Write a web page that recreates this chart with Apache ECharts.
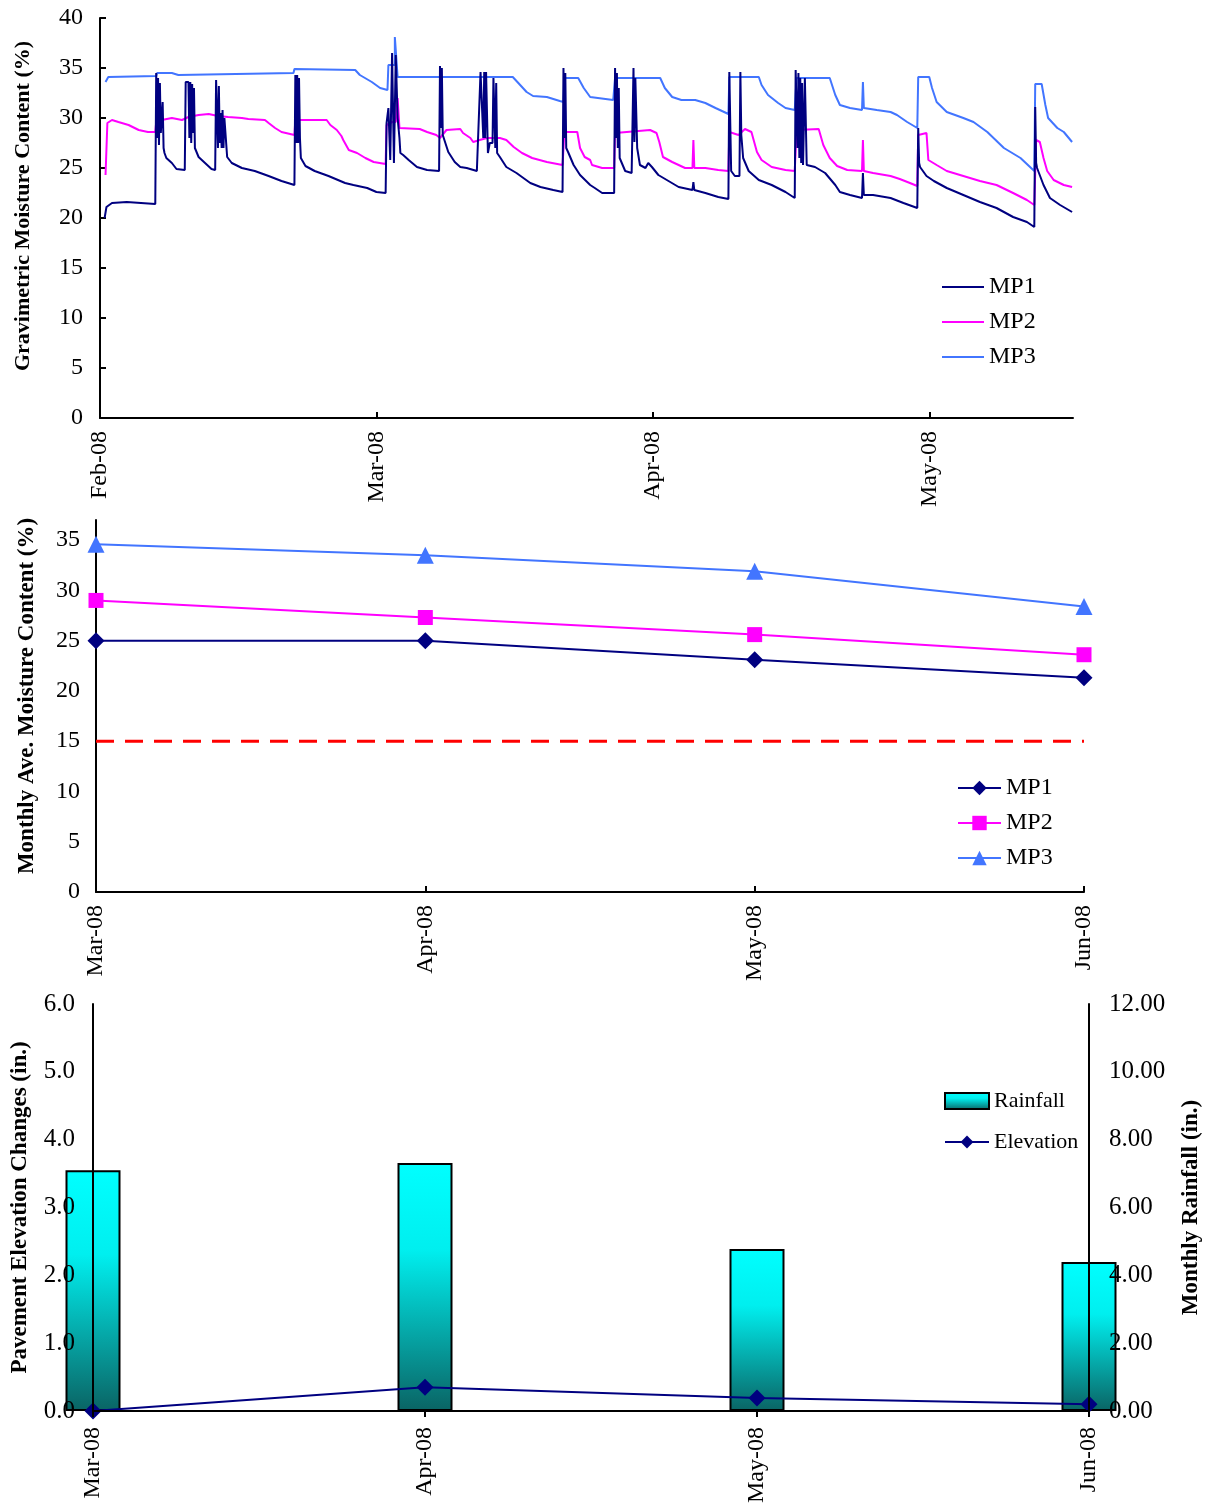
<!DOCTYPE html>
<html><head><meta charset="utf-8">
<script src="https://cdn.jsdelivr.net/npm/echarts@6/dist/echarts.min.js"></script>
<style>html,body{margin:0;padding:0;background:#fff}#c{width:1207px;height:1504px}</style>
</head><body><div id="c"></div>
<script>
// ---------- Panel 1: daily gravimetric moisture (x = days from 1 Feb, month ticks every 30) ----------
const monthTicks = [0, 30, 60, 90];
const monthTickLabels = ['Feb-08', 'Mar-08', 'Apr-08', 'May-08'];

const mp1Daily = [
[0.5,20.0],[0.7,21.1],[1.3,21.5],[2.9,21.6],[3.1,21.4],[6.0,21.4],
[6.1,34.5],[6.2,28.0],[6.3,34.0],[6.4,27.3],[6.5,33.5],[6.6,28.5],[6.8,31.6],[6.9,27.0],[7.0,26.5],[7.2,26.0],[7.8,25.5],[8.3,24.9],[9.2,24.8],
[9.3,33.6],[9.6,33.6],[9.7,28.0],[9.8,33.6],[9.9,27.5],[10.0,33.4],[10.1,28.5],[10.2,33.0],[10.3,27.0],[10.7,26.1],[11.4,25.5],[12.1,24.9],[12.5,24.8],
[12.6,33.8],[12.7,33.8],[12.8,27.0],[12.9,33.2],[13.0,27.5],[13.1,30.5],[13.2,27.0],[13.3,30.8],[13.4,27.0],[13.5,30.0],[13.8,26.1],[14.3,25.5],[15.4,25.0],[16.8,24.7],[18.3,24.2],[19.7,23.7],[21.1,23.3],
[21.2,34.3],[21.3,27.5],[21.4,34.3],[21.5,27.5],[21.6,34.0],[21.7,28.0],[21.8,26.0],[22.3,25.2],[23.3,24.7],[24.8,24.2],[26.6,23.5],[27.5,23.3],[29.0,23.0],[30.0,22.6],[31.0,22.5],
[31.1,29.5],[31.3,31.0],[31.5,25.8],[31.7,36.5],[31.9,25.5],[32.1,36.3],[32.3,30.0],[32.5,28.0],[32.6,26.5],[32.9,26.3],[33.5,25.8],[34.4,25.1],[35.5,24.8],[36.8,24.7],
[36.9,35.2],[37.0,29.0],[37.1,35.0],[37.2,28.3],[37.4,28.3],[37.8,26.6],[38.5,25.6],[39.1,25.1],[39.8,25.0],[40.9,24.7],
[41.3,34.6],[41.5,34.6],[41.6,28.0],[41.7,34.6],[41.8,28.0],[41.9,34.6],[42.1,26.5],[42.3,27.5],[42.6,27.5],[42.7,34.0],[42.8,34.0],[42.9,27.0],[43.0,33.5],[43.1,26.5],[43.4,26.1],[44.1,25.1],[45.2,24.5],[46.7,23.5],[47.8,23.1],[49.2,22.8],[50.2,22.6],
[50.3,35.0],[50.4,28.0],[50.5,34.5],[50.6,27.0],[50.8,26.6],[51.4,25.3],[52.1,24.3],[53.2,23.3],[53.7,23.0],[54.5,22.5],[55.8,22.5],
[55.9,35.0],[56.0,28.0],[56.1,34.5],[56.2,27.0],[56.3,33.0],[56.4,26.0],[57.0,24.7],[57.7,24.5],[57.9,35.0],[58.0,27.6],[58.1,34.0],[58.3,27.0],[58.6,25.3],[59.2,25.0],[59.5,25.5],[59.9,25.1],[60.6,24.3],[61.7,23.7],[62.8,23.1],[64.3,22.8],[64.4,23.6],[64.5,22.8],[65.7,22.5],[67.1,22.1],[68.2,21.9],
[68.3,34.6],[68.4,34.6],[68.5,24.7],[68.9,24.2],[69.4,24.2],[69.5,34.6],[69.6,28.3],[69.8,26.0],[70.4,24.7],[71.5,23.8],[72.9,23.3],[74.4,22.6],[75.4,22.0],
[75.5,34.8],[75.7,27.0],[75.8,34.5],[75.9,26.0],[76.0,34.0],[76.1,25.5],[76.2,33.5],[76.3,25.3],[76.5,34.0],[76.7,25.3],[76.9,25.3],[77.6,25.1],[78.7,24.5],[79.8,23.3],[80.3,22.6],[81.4,22.3],[82.7,22.0],[82.8,24.5],[82.9,22.3],[83.9,22.3],[85.8,22.0],[87.2,21.5],[88.7,21.0],
[88.8,29.0],[88.9,25.5],[89.0,25.1],[89.7,24.2],[90.5,23.7],[91.9,23.0],[93.7,22.3],[95.5,21.6],[97.3,21.0],[99.1,20.1],[100.6,19.6],[101.4,19.1],
[101.5,31.1],[101.6,25.5],[101.7,25.0],[102.4,23.3],[103.1,22.0],[104.2,21.3],[105.5,20.6]
];

const mp2Daily = [
[0.6,24.3],[0.8,29.5],[1.3,29.8],[2.0,29.6],[3.1,29.3],[4.2,28.8],[5.2,28.6],[6.0,28.6],
[6.1,29.6],[6.7,29.8],[7.8,30.0],[8.9,29.8],[9.6,30.1],[10.7,30.3],[11.8,30.4],[12.8,30.2],[13.9,30.1],[15.4,30.0],[16.1,29.9],[17.9,29.8],[18.3,29.5],[19.0,29.0],[19.7,28.6],[21.1,28.3],
[21.2,29.8],[24.6,29.8],[25.0,29.3],[25.7,28.8],[26.2,28.2],[26.4,27.8],[27.0,26.8],[27.9,26.5],[28.8,26.0],[29.7,25.6],[31.0,25.4],
[31.1,29.3],[31.7,29.6],[32.1,29.6],[32.3,32.0],[32.5,29.0],[34.7,28.9],[35.5,28.6],[36.5,28.3],[36.9,28.0],[37.6,28.8],[39.1,28.9],[39.4,28.5],[40.2,28.0],[40.5,27.6],[41.2,27.8],[42.0,28.0],[43.4,28.0],[44.1,27.8],[44.9,27.1],[45.8,26.5],[46.9,26.0],[48.5,25.6],[50.2,25.3],
[50.4,28.6],[51.8,28.6],[52.1,27.0],[52.6,26.1],[53.2,25.8],[53.4,25.3],[54.5,25.0],[55.8,25.0],
[55.9,28.5],[59.7,28.8],[60.4,28.5],[60.7,27.6],[61.1,26.1],[62.1,25.6],[63.5,25.0],[64.3,25.0],[64.4,27.8],[64.5,25.0],[65.7,25.0],[67.1,24.8],[68.2,24.7],
[68.3,28.6],[69.3,28.3],[70.0,28.9],[70.7,28.6],[71.3,26.6],[71.8,25.8],[72.9,25.1],[74.4,24.8],[75.4,24.7],
[75.6,28.8],[78.0,28.9],[78.5,27.3],[79.2,26.0],[80.0,25.2],[81.1,24.8],[82.7,24.7],[82.8,27.8],[82.9,24.7],[83.9,24.5],[85.8,24.2],[86.8,23.9],[87.9,23.5],[88.7,23.2],
[88.8,28.3],[89.7,28.5],[89.9,25.8],[90.8,25.3],[91.9,24.7],[93.7,24.2],[95.5,23.7],[97.3,23.3],[99.1,22.5],[100.6,21.8],[101.4,21.3],
[101.6,27.8],[102.0,27.6],[102.4,26.0],[102.8,24.7],[103.5,23.8],[104.6,23.3],[105.5,23.1]
];

const mp3Daily = [
[0.6,33.6],[0.9,34.1],[6.1,34.2],[6.2,34.5],[7.8,34.5],[7.9,34.3],[8.5,34.3],[8.6,34.5],[21.0,34.5],[21.1,34.9],
[27.7,34.8],[28.2,34.3],[29.5,33.6],[30.4,33.0],[31.2,32.8],[31.3,35.3],[32.0,35.3],[32.0,38.1],[32.2,38.1],[32.3,34.1],
[44.8,34.1],[45.6,33.3],[46.3,32.6],[47.0,32.2],[48.5,32.1],[49.9,31.7],[50.3,31.6],[50.4,34.0],[51.9,34.0],[52.5,33.0],[53.2,32.1],[53.4,32.0],[55.7,31.8],
[55.9,34.0],[60.8,34.0],[61.3,33.0],[62.1,32.1],[63.1,31.8],[64.6,31.8],[65.7,31.5],[66.8,31.0],[68.2,30.4],
[68.3,34.1],[71.5,34.1],[71.8,33.3],[72.5,32.3],[73.6,31.5],[74.4,31.0],[75.4,30.8],
[75.6,34.0],[79.2,34.0],[79.8,32.3],[80.3,31.3],[81.4,31.0],[82.7,30.8],[82.8,33.6],[82.9,31.0],[84.3,30.8],[85.8,30.6],[86.5,30.3],[87.6,29.6],[88.7,29.0],
[88.8,34.1],[90.0,34.1],[90.3,33.0],[90.8,31.6],[91.9,30.6],[93.7,30.0],[94.8,29.6],[96.3,28.6],[98.1,27.0],[99.9,26.0],[101.4,24.7],
[101.5,33.4],[102.2,33.4],[102.6,31.3],[102.9,30.0],[103.9,29.0],[104.6,28.6],[105.5,27.6]
];

// ---------- Panel 2: monthly average moisture ----------
const avgMonths = ['Mar-08', 'Apr-08', 'May-08', 'Jun-08'];
const avgYTicks = [0, 5, 10, 15, 20, 25, 30, 35];
const mp1Avg = [25.0, 25.0, 23.1, 21.3];
const mp2Avg = [29.0, 27.3, 25.6, 23.6];
const mp3Avg = [34.6, 33.5, 31.9, 28.4];
const thresholdLine = [15, 15, 15, 15];

// ---------- Panel 3: elevation & rainfall ----------
const rainMonths = ['Mar-08', 'Apr-08', 'May-08', 'Jun-08'];
const rainfall = [7.10, 7.31, 4.78, 4.39];
const elevation = [0.0, 0.35, 0.19, 0.10];

const FONT = "'Liberation Serif', 'Times New Roman', serif";
const axisLineStyle = { show: true, lineStyle: { color: '#000', width: 2 } };
const lbl = (extra) => Object.assign({ color: '#000', fontFamily: FONT, fontSize: 24 }, extra || {});
const titleStyle = { color: '#000', fontFamily: FONT, fontSize: 23, fontWeight: 'bold' };

const chart = echarts.init(document.getElementById('c'), null, { renderer: 'canvas' });
chart.setOption({
  animation: false,
  backgroundColor: '#fff',
  grid: [
    { left: 100, top: 18, width: 973, height: 400, outerBoundsMode: 'none', containLabel: false },
    { left: 96, top: 520, width: 988, height: 372, outerBoundsMode: 'none', containLabel: false },
    { left: 93, top: 1004, width: 996, height: 407, outerBoundsMode: 'none', containLabel: false }
  ],
  xAxis: [
    { type: 'value', gridIndex: 0, min: 0, max: 105.6, interval: 30,
      axisLine: axisLineStyle, splitLine: { show: false },
      axisTick: { inside: true, length: 6, lineStyle: { color: '#000', width: 2 }, customValues: monthTicks },
      axisLabel: lbl({ rotate: 90, margin: 13, customValues: monthTicks,
        formatter: v => monthTickLabels[monthTicks.indexOf(v)] || '' }) },
    { type: 'category', gridIndex: 1, data: avgMonths, boundaryGap: false,
      axisLine: axisLineStyle,
      axisTick: { inside: true, length: 6, lineStyle: { color: '#000', width: 2 } },
      axisLabel: lbl({ rotate: 90, margin: 13 }) },
    { type: 'category', gridIndex: 2, data: rainMonths, boundaryGap: false, z: 10,
      axisLine: axisLineStyle,
      axisTick: { inside: false, length: 6, lineStyle: { color: '#000', width: 2 } },
      axisLabel: lbl({ rotate: 90, margin: 16 }) }
  ],
  yAxis: [
    { type: 'value', gridIndex: 0, min: 0, max: 40, interval: 5,
      axisLine: axisLineStyle, splitLine: { show: false },
      axisTick: { inside: true, length: 6, lineStyle: { color: '#000', width: 2 } },
      axisLabel: lbl({ margin: 17 }),
      name: 'Gravimetric Moisture Content (%)', nameLocation: 'middle', nameGap: 66, nameRotate: 90,
      nameTextStyle: Object.assign({}, titleStyle, { fontSize: 22, padding: [0, 0, 0, 24] }) },
    { type: 'value', gridIndex: 1, min: 0, max: 37,
      axisLine: axisLineStyle, splitLine: { show: false },
      axisTick: { inside: true, length: 6, lineStyle: { color: '#000', width: 2 }, customValues: avgYTicks },
      axisLabel: lbl({ margin: 16, customValues: avgYTicks }),
      name: 'Monthly Ave. Moisture Content (%)', nameLocation: 'middle', nameGap: 57, nameRotate: 90,
      nameTextStyle: Object.assign({}, titleStyle, { padding: [0, 0, 0, 20] }) },
    { type: 'value', gridIndex: 2, min: 0, max: 6, interval: 1, position: 'left', z: 10,
      axisLine: axisLineStyle, splitLine: { show: false },
      axisTick: { inside: true, length: 6, lineStyle: { color: '#000', width: 2 } },
      axisLabel: lbl({ margin: 18, fontSize: 25, formatter: v => v.toFixed(1) }),
      name: 'Pavement Elevation Changes (in.)', nameLocation: 'middle', nameGap: 61, nameRotate: 90,
      nameTextStyle: titleStyle },
    { type: 'value', gridIndex: 2, min: 0, max: 12, interval: 2, position: 'right', z: 10,
      axisLine: axisLineStyle, splitLine: { show: false },
      axisTick: { inside: true, length: 6, lineStyle: { color: '#000', width: 2 } },
      axisLabel: lbl({ margin: 20, fontSize: 25, formatter: v => v.toFixed(2) }),
      name: 'Monthly Rainfall (in.)', nameLocation: 'middle', nameGap: 91, nameRotate: 90,
      nameTextStyle: titleStyle }
  ],
  legend: [
    { data: ['MP1', 'MP2', 'MP3'], orient: 'vertical', left: 942, top: 275, padding: 0,
      icon: 'rect', itemWidth: 42, itemHeight: 2, itemGap: 11, textStyle: lbl(), selectedMode: false },
    { data: ['MP1 avg', 'MP2 avg', 'MP3 avg'], orient: 'vertical', left: 957, top: 776, padding: 0,
      itemWidth: 43, itemHeight: 18, itemGap: 11, textStyle: lbl(), selectedMode: false,
      formatter: n => n.split(' ')[0] },
    { data: [{ name: 'Rainfall', icon: 'rect' }, 'Elevation'], orient: 'vertical', left: 944, top: 1090, padding: 0,
      itemWidth: 44, itemHeight: 16, itemGap: 19, textStyle: lbl({ fontSize: 22 }), selectedMode: false }
  ],
  series: [
    { name: 'MP1', type: 'line', xAxisIndex: 0, yAxisIndex: 0, data: mp1Daily, symbol: 'none',
      lineStyle: { color: '#000080', width: 2 }, itemStyle: { color: '#000080' }, z: 4 },
    { name: 'MP2', type: 'line', xAxisIndex: 0, yAxisIndex: 0, data: mp2Daily, symbol: 'none',
      lineStyle: { color: '#FF00FF', width: 2 }, itemStyle: { color: '#FF00FF' }, z: 3 },
    { name: 'MP3', type: 'line', xAxisIndex: 0, yAxisIndex: 0, data: mp3Daily, symbol: 'none',
      lineStyle: { color: '#4275FF', width: 2 }, itemStyle: { color: '#4275FF' }, z: 2 },

    { name: 'Threshold', type: 'line', xAxisIndex: 1, yAxisIndex: 1, data: thresholdLine, symbol: 'none',
      lineStyle: { color: '#FF0000', width: 3, type: [18, 11] }, z: 1 },
    { name: 'MP1 avg', type: 'line', xAxisIndex: 1, yAxisIndex: 1, data: mp1Avg, symbol: 'diamond', symbolSize: 17,
      lineStyle: { color: '#000080', width: 2 }, itemStyle: { color: '#000080' }, z: 4 },
    { name: 'MP2 avg', type: 'line', xAxisIndex: 1, yAxisIndex: 1, data: mp2Avg, symbol: 'rect', symbolSize: 15,
      lineStyle: { color: '#FF00FF', width: 2 }, itemStyle: { color: '#FF00FF' }, z: 3 },
    { name: 'MP3 avg', type: 'line', xAxisIndex: 1, yAxisIndex: 1, data: mp3Avg, symbol: 'triangle', symbolSize: 17,
      lineStyle: { color: '#4275FF', width: 2 }, itemStyle: { color: '#4275FF' }, z: 2 },

    { name: 'Rainfall', type: 'bar', xAxisIndex: 2, yAxisIndex: 3, data: rainfall, barWidth: 55, clip: false,
      itemStyle: { borderColor: '#000', borderWidth: 2,
        color: new echarts.graphic.LinearGradient(0, 0, 0, 1, [
          { offset: 0, color: '#00FFFF' }, { offset: 0.35, color: '#00EFEF' }, { offset: 1, color: '#0A6464' }]) },
      z: 2 },
    { name: 'Elevation', type: 'line', xAxisIndex: 2, yAxisIndex: 2, data: elevation, symbol: 'diamond', symbolSize: 17,
      lineStyle: { color: '#000080', width: 2 }, itemStyle: { color: '#000080' }, z: 5 }
  ]
});
</script>
</body></html>
